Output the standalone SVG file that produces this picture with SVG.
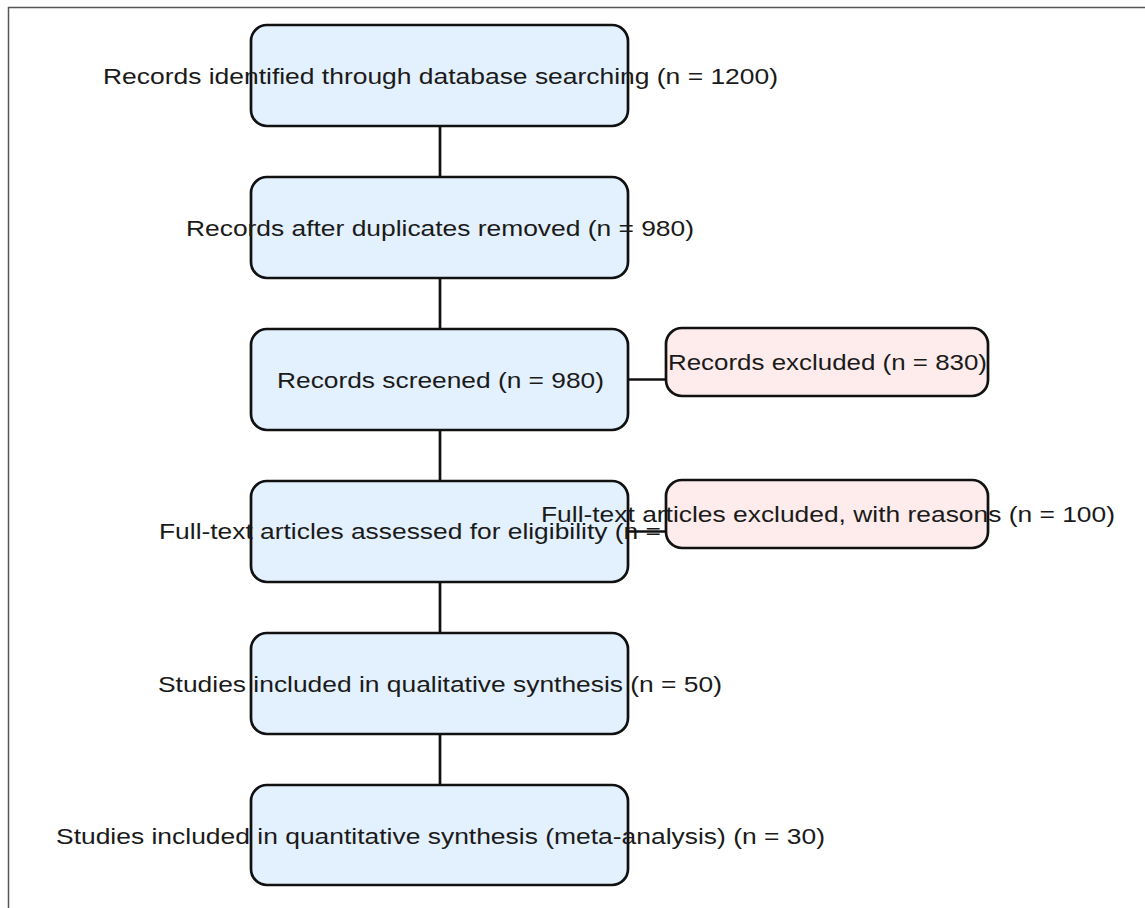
<svg xmlns="http://www.w3.org/2000/svg" width="1145" height="908" viewBox="0 0 1145 908">
<style>
.bg{fill:#ffffff}
.frame{fill:none;stroke:#555555;stroke-width:1.5}
.blue{fill:#e3f0fd;stroke:#111111;stroke-width:2.7}
.pink{fill:#fdeceb;stroke:#111111;stroke-width:2.7}
.edge{stroke:#111111;stroke-width:2.7;fill:none}
text{font-family:"Liberation Sans",Arial,sans-serif;font-size:22px;fill:#1a1a1a;text-anchor:middle}
</style>
<rect class="bg" x="0" y="0" width="1145" height="908"/>
<path class="frame" d="M8.5 908 V7.5 H1145"/>
<g id="n1"><rect class="blue" x="251" y="25" width="377" height="101" rx="16"/><text x="440.5" y="84" textLength="675" lengthAdjust="spacingAndGlyphs">Records identified through database searching (n = 1200)</text></g>
<g id="n2"><rect class="blue" x="251" y="177" width="377" height="101" rx="16"/><text x="440" y="236" textLength="508" lengthAdjust="spacingAndGlyphs">Records after duplicates removed (n = 980)</text></g>
<g id="n3"><rect class="blue" x="251" y="329" width="377" height="101" rx="16"/><text x="440.5" y="388" textLength="327" lengthAdjust="spacingAndGlyphs">Records screened (n = 980)</text></g>
<g id="n4"><rect class="blue" x="251" y="481" width="377" height="101" rx="16"/><text x="440" y="539" textLength="562" lengthAdjust="spacingAndGlyphs">Full-text articles assessed for eligibility (n = 150)</text></g>
<g id="n5"><rect class="blue" x="251" y="633" width="377" height="101" rx="16"/><text x="440" y="692" textLength="564" lengthAdjust="spacingAndGlyphs">Studies included in qualitative synthesis (n = 50)</text></g>
<g id="n6"><rect class="blue" x="251" y="785" width="377" height="100" rx="16"/><text x="440.5" y="844" textLength="769" lengthAdjust="spacingAndGlyphs">Studies included in quantitative synthesis (meta-analysis) (n = 30)</text></g>
<g id="connectors">
<line class="edge" x1="440" y1="126" x2="440" y2="177"/>
<line class="edge" x1="440" y1="278" x2="440" y2="329"/>
<line class="edge" x1="440" y1="430" x2="440" y2="481"/>
<line class="edge" x1="440" y1="582" x2="440" y2="633"/>
<line class="edge" x1="440" y1="734" x2="440" y2="785"/>
<line class="edge" x1="628" y1="379.5" x2="666" y2="379.5"/>
<line class="edge" x1="628" y1="531.5" x2="666" y2="531.5"/>
</g>
<g id="x1"><rect class="pink" x="666" y="328" width="322" height="68" rx="16"/><text x="827.5" y="370" textLength="319" lengthAdjust="spacingAndGlyphs">Records excluded (n = 830)</text></g>
<g id="x2"><rect class="pink" x="666" y="480" width="322" height="68" rx="16"/><text x="828" y="522" textLength="574" lengthAdjust="spacingAndGlyphs">Full-text articles excluded, with reasons (n = 100)</text></g>
</svg>
